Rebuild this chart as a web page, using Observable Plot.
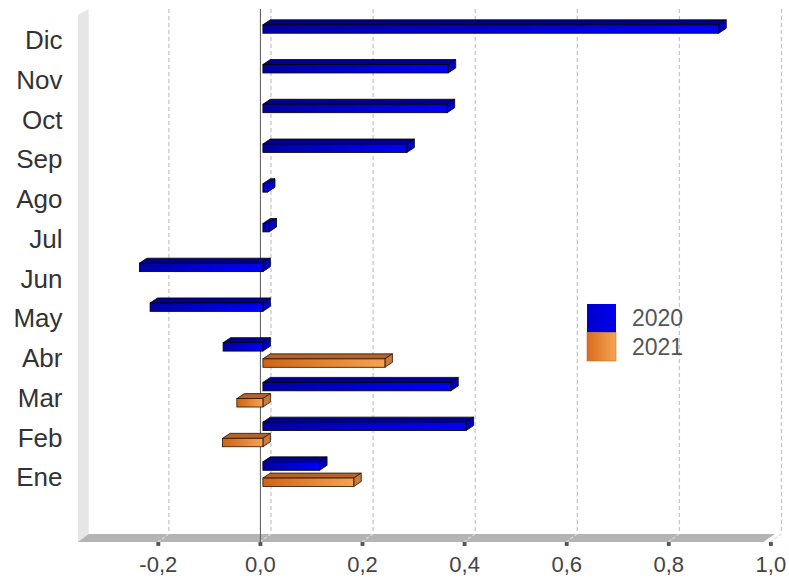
<!DOCTYPE html>
<html>
<head>
<meta charset="utf-8">
<script src="https://cdn.jsdelivr.net/npm/d3@7"></script>
<script src="https://cdn.jsdelivr.net/npm/@observablehq/plot@0.6"></script>
<style>
  html, body { margin: 0; padding: 0; background: #fff; }
  #chart { width: 789px; height: 578px; }
</style>
</head>
<body>
<div id="chart"></div>
<script>
// ---- data ----
const months = ["Ene", "Feb", "Mar", "Abr", "May", "Jun", "Jul", "Ago", "Sep", "Oct", "Nov", "Dic"];
const values2020 = [0.111, 0.398, 0.368, -0.078, -0.221, -0.242, 0.012, 0.009, 0.282, 0.361, 0.363, 0.893];
const months2021 = ["Ene", "Feb", "Mar", "Abr"];
const values2021 = [0.178, -0.079, -0.051, 0.239];
const years = ["2020", "2021"];
const xTicks = [-0.2, 0, 0.2, 0.4, 0.6, 0.8, 1.0];

const data2020 = months.map((m, i) => ({month: m, v: values2020[i]}));
const data2021 = months2021.map((m, i) => ({month: m, v: values2021[i]}));

// ---- style ----
const W = 789, H = 578;
const mTop = 9, mBottom = 36, mLeft = 78, mRight = 14;
const wallDX = 10.7, wallDY = 8;       // chart depth
const barShift = 3, barDX = 7.5, barDY = -5; // bar depth
const inset = {
  "2020": {top: 7.7, bottom: 23.6},
  "2021": {top: 23.9, bottom: 7.4}
};
const palette = {
  "2020": {g0: "#0000a4", g1: "#0000fa", top: "#00008e", side: "#0000c4", stroke: "#000000", l0: "#0000c8", l1: "#0000f2"},
  "2021": {g0: "#cf6416", g1: "#f6a253", top: "#b4632a", side: "#c97a3e", stroke: "#2a1200", l0: "#da6c1e", l1: "#f4a454"}
};
const fmt = d => (d < 0 ? "-" : "") + Math.abs(d).toFixed(1).replace(".", ",");

function defsMark() {
  const g = d3.create("svg:g");
  const defs = g.append("defs");
  for (const y of years) {
    const p = palette[y];
    const lg = defs.append("linearGradient").attr("id", "g" + y).attr("x1", 0).attr("x2", 1).attr("y1", 0).attr("y2", 0);
    lg.append("stop").attr("offset", "0%").attr("stop-color", p.g0);
    lg.append("stop").attr("offset", "100%").attr("stop-color", p.g1);
    const ll = defs.append("linearGradient").attr("id", "l" + y).attr("x1", 0).attr("x2", 1).attr("y1", 0).attr("y2", 0);
    ll.append("stop").attr("offset", "0%").attr("stop-color", p.l0);
    ll.append("stop").attr("offset", "100%").attr("stop-color", p.l1);
  }
  return g.node();
}

function frameMark(index, scales, values, dims) {
  const {marginLeft: L, marginTop: T, width, height, marginRight, marginBottom} = dims;
  const R = width - marginRight, B = height - marginBottom;
  const g = d3.create("svg:g");
  g.append("polygon")
    .attr("points", [[L, T + 6], [L + wallDX, T], [L + wallDX, B - wallDY], [L, B]].join(" "))
    .attr("fill", "#e6e6e6");
  g.append("polygon")
    .attr("points", [[L, B], [L + wallDX, B - wallDY], [R, B - wallDY], [R - wallDX - 1, B]].join(" "))
    .attr("fill", "#b4b4b4");
  return g.node();
}

function diagonalsMark(index, scales, values, dims) {
  const x = scales.x;
  const B = dims.height - dims.marginBottom;
  const g = d3.create("svg:g");
  for (const t of xTicks) {
    g.append("line")
      .attr("x1", x(t) + wallDX).attr("y1", B - wallDY)
      .attr("x2", x(t)).attr("y2", B)
      .attr("stroke", "#dcdcdc").attr("stroke-width", 1.3).attr("stroke-dasharray", "3,2");
  }
  return g.node();
}

function facesMark(data, year) {
  return (index, scales) => {
    const x = scales.x, y = scales.y;
    const bw = y.bandwidth();
    const p = palette[year];
    const g = d3.create("svg:g");
    for (const d of data) {
      const yt = y(d.month) + inset[year].top;
      const yb = y(d.month) + bw - inset[year].bottom;
      const xa = Math.min(x(0), x(d.v)) + barShift;
      const xb = Math.max(x(0), x(d.v)) + barShift;
      g.append("polygon")
        .attr("points", [[xa, yt], [xa + barDX, yt + barDY], [xb + barDX, yt + barDY], [xb, yt]].join(" "))
        .attr("fill", p.top).attr("stroke", p.stroke).attr("stroke-width", 0.8).attr("stroke-linejoin", "round");
      g.append("polygon")
        .attr("points", [[xb, yt], [xb + barDX, yt + barDY], [xb + barDX, yb + barDY], [xb, yb]].join(" "))
        .attr("fill", p.side).attr("stroke", p.stroke).attr("stroke-width", 0.8).attr("stroke-linejoin", "round");
    }
    return g.node();
  };
}

function legendMark() {
  const g = d3.create("svg:g");
  const lx = 587, ly = 304, s = 29, step = 28.5;
  years.forEach((yr, i) => {
    g.append("rect")
      .attr("x", lx).attr("y", ly + i * step).attr("width", s).attr("height", s - 0.5)
      .attr("fill", `url(#l${yr})`)
      .attr("stroke", i === 1 ? "#c8702e" : "none").attr("stroke-width", 0.6);
    g.append("text")
      .attr("x", 632).attr("y", ly + i * step + 22)
      .attr("text-anchor", "start")
      .attr("font-size", 23).attr("fill", "#555")
      .text(yr);
  });
  return g.node();
}

const plot = Plot.plot({
  width: W,
  height: H,
  marginTop: mTop,
  marginBottom: mBottom,
  marginLeft: mLeft,
  marginRight: mRight,
  style: {fontFamily: "'Liberation Sans', Arial, sans-serif", background: "#fff", overflow: "visible"},
  x: {domain: [-0.2, 1.0], range: [157.8, 770.4], axis: null},
  y: {domain: [...months].reverse(), range: [17.1, 493.9], padding: 0, round: false, axis: null},
  marks: [
    defsMark,
    frameMark,
    Plot.ruleX(xTicks, {x: d => d, dx: wallDX - 0.1, insetBottom: wallDY, stroke: "#c8c8c8", strokeWidth: 1.3, strokeDasharray: "4,3"}),
    diagonalsMark,
    Plot.ruleX([0], {x: d => d, stroke: "#555", strokeWidth: 1}),
    Plot.dot(xTicks, {x: d => d, frameAnchor: "bottom", symbol: "square", r: 2.2, fill: "#555", dy: 1.5}),
    Plot.text(xTicks, {x: d => d, text: fmt, frameAnchor: "bottom", lineAnchor: "middle", dy: 22.5, fontSize: 22, fill: "#444", textAnchor: "middle"}),
    Plot.text(months, {y: d => d, text: d => d, frameAnchor: "left", lineAnchor: "middle", textAnchor: "end", dx: -16, dy: 3.5, fontSize: 26, fill: "#333"}),
    facesMark(data2020, "2020"),
    facesMark(data2021, "2021"),
    Plot.barX(data2020, {x1: d => 0, x2: "v", y: "month", dx: barShift, insetTop: inset["2020"].top, insetBottom: inset["2020"].bottom, fill: "url(#g2020)", stroke: palette["2020"].stroke, strokeWidth: 0.8}),
    Plot.barX(data2021, {x1: d => 0, x2: "v", y: "month", dx: barShift, insetTop: inset["2021"].top, insetBottom: inset["2021"].bottom, fill: "url(#g2021)", stroke: palette["2021"].stroke, strokeWidth: 0.8}),
    legendMark
  ]
});
document.getElementById("chart").appendChild(plot);
</script>
</body>
</html>
